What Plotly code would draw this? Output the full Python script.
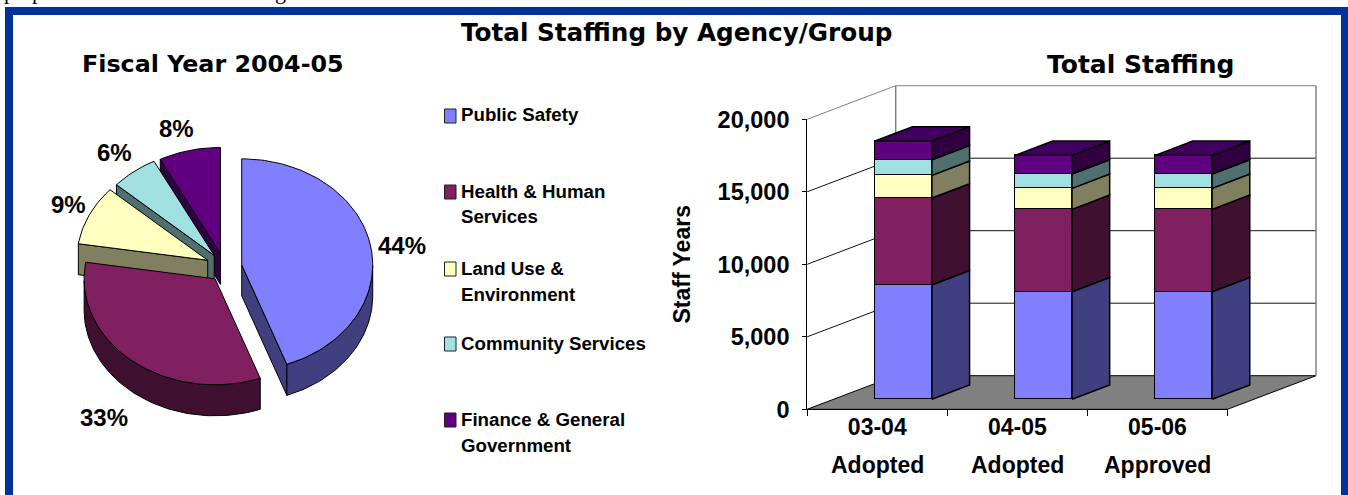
import math
import plotly.graph_objects as go

# ---------- data ----------
groups = ["Public Safety", "Health & Human Services", "Land Use & Environment",
          "Community Services", "Finance & General Government"]
legend_lines = [["Public Safety"], ["Health & Human", "Services"], ["Land Use &", "Environment"],
                ["Community Services"], ["Finance & General", "Government"]]
pie_shares = [44.4, 33.1, 9.1, 5.8, 7.6]
pie_labels = ["44%", "33%", "9%", "6%", "8%"]
pie_pull = [18, 14, 18, 16, 15]
years = ["03-04", "04-05", "05-06"]
stages = ["Adopted", "Adopted", "Approved"]
public_safety = [7900, 7420, 7420]
health_human = [5980, 5680, 5680]
land_use = [1565, 1450, 1450]
community = [1075, 985, 985]
finance = [1290, 1290, 1290]
stack = [public_safety, health_human, land_use, community, finance]
value_ticks = [0, 5000, 10000, 15000, 20000]

front = ["#8080FF", "#802060", "#FFFFC0", "#A0E0E0", "#600080"]
side = ["#404080", "#401030", "#808060", "#507070", "#300040"]
top_col = "#400060"
BLUE = "#003399"

W, H = 1348, 495
fig = go.Figure()

# ---------- axes layout (pixels -> library scales) ----------
PX_CAT = 140.1
PX_VAL = 290 / 20000
BX, BY = 903.4, 399.3      # bar plane origin on the page
DX = 88.5 / PX_CAT         # full floor depth, in axis units
DY = 33.6 / PX_VAL
D0 = 10 / 33.6             # bars stand this far behind the axis plane
DB = 14.3 / 33.6           # depth of one bar
BW = 57 / PX_CAT
FX0, FY0, FX1, FY1 = 807.2, 409.3, 1227.5, 119.3
CX, CY, RX, RY, DEPTH = 224, 268, 131, 106, 31


def wall(xpx, v, d):
    """point on the axis plane (page x, value) pushed back to depth d"""
    return (xpx - BX) / PX_CAT + d * DX, v + (d - D0) * DY


def path(points):
    return "M" + " L".join(f"{a:.4f},{b:.4f}" for a, b in points) + " Z"


shapes = [
    dict(type="rect", xref="paper", yref="paper", x0=5 / W, x1=W / W, y0=1 - 15 / H, y1=1 - 7 / H,
         fillcolor=BLUE, line_width=0, layer="above"),
    dict(type="rect", xref="paper", yref="paper", x0=5 / W, x1=13 / W, y0=0, y1=1 - 7 / H,
         fillcolor=BLUE, line_width=0, layer="above"),
    dict(type="rect", xref="paper", yref="paper", x0=1341 / W, x1=1, y0=0, y1=1 - 7 / H,
         fillcolor=BLUE, line_width=0, layer="above"),
]
# floor
shapes.append(dict(type="path", xref="x", yref="y", layer="below", fillcolor="#808080",
                   line=dict(color="#000000", width=1),
                   path=path([wall(FX0, 0, 0), wall(FX1, 0, 0), wall(FX1, 0, 1), wall(FX0, 0, 1)])))
# wall outline and gridlines
for v in value_ticks[1:]:
    pts = [wall(FX0, v, 0), wall(FX0, v, 1), wall(FX1, v, 1)]
    col = "#808080" if v == 20000 else "#101010"
    shapes.append(dict(type="path", xref="x", yref="y", layer="below",
                       line=dict(color=col, width=1),
                       path="M" + " L".join(f"{a:.4f},{b:.4f}" for a, b in pts)))
for xp in (FX0, FX1):
    a, b = wall(xp, 0, 1), wall(xp, 20000, 1)
    shapes.append(dict(type="line", xref="x", yref="y", layer="below", x0=a[0], y0=a[1], x1=b[0], y1=b[1],
                       line=dict(color="#808080", width=1.5)))

# ---------- stacked 3-D bars ----------
xs = list(range(len(years)))
for s, vals in enumerate(stack):
    fig.add_trace(go.Bar(x=xs, y=vals, name=groups[s], width=BW, marker=dict(color=front[s],
                         line=dict(color="#000000", width=1.5)), xaxis="x", yaxis="y",
                         showlegend=False, hoverinfo="skip"))


def poly(pts, color, xa="x", ya="y", lw=1.5):
    xx = [p[0] for p in pts] + [pts[0][0]]
    yy = [p[1] for p in pts] + [pts[0][1]]
    fig.add_trace(go.Scatter(x=xx, y=yy, mode="lines", fill="toself", fillcolor=color,
                             line=dict(color="#000000", width=lw), xaxis=xa, yaxis=ya,
                             showlegend=False, hoverinfo="skip"))


for i in xs:
    base = 0
    r = i + BW / 2
    l = i - BW / 2
    ox, oy = DB * DX, DB * DY
    for s, vals in enumerate(stack):
        t = base + vals[i]
        poly([(r, base), (r + ox, base + oy), (r + ox, t + oy), (r, t)], side[s])
        base = t
    poly([(l, base), (r, base), (r + ox, base + oy), (l + ox, base + oy)], top_col)

# visible front-plane axes carrying tick labels
totals = [sum(col[i] for col in stack) for i in xs]
fig.add_trace(go.Scatter(x=years, y=totals, mode="markers", marker=dict(opacity=0, size=1),
                         xaxis="x2", yaxis="y2", showlegend=False, hoverinfo="skip"))

# ---------- exploded pie ----------
UY = RY / RX


def pie_pt(t, ax, ay, drop=0):
    return ax + math.sin(t), ay + UY * math.cos(t) - drop / RX


order = [4, 3, 2, 1, 0]
start = 0
spans = []
for v in pie_shares:
    spans.append((start / 100 * 2 * math.pi, (start + v) / 100 * 2 * math.pi))
    start += v

for k in order:
    a, b = spans[k]
    mid = (a + b) / 2
    ax = pie_pull[k] * math.sin(mid) / RX
    ay = pie_pull[k] * math.cos(mid) / RX
    n = max(4, int((b - a) * 40))
    ts = [a + (b - a) * j / n for j in range(n + 1)]
    arc_top = [pie_pt(t, ax, ay) for t in ts]
    apex_t, apex_l = (ax, ay), (ax, ay - DEPTH / RX)
    # front-facing parts of the extruded body only
    if math.sin(a) < -1e-6:
        poly([apex_t, pie_pt(a, ax, ay), pie_pt(a, ax, ay, DEPTH), apex_l], side[k], "x3", "y3", 1)
    if math.sin(b) > 1e-6:
        poly([apex_t, pie_pt(b, ax, ay), pie_pt(b, ax, ay, DEPTH), apex_l], side[k], "x3", "y3", 1)
    front_ts = [t for t in ts if math.cos(t) <= 0]
    if len(front_ts) > 1:
        poly([pie_pt(t, ax, ay) for t in front_ts] + [pie_pt(t, ax, ay, DEPTH) for t in front_ts[::-1]],
             side[k], "x3", "y3", 1)
    poly([apex_t] + arc_top, front[k], "x3", "y3", 1)

# ---------- text ----------
annos = []


def text(s, x, y, size, family="Liberation Sans", xanchor="left", yanchor="middle"):
    annos.append(dict(text=s, x=x / W, y=1 - y / H, xref="paper", yref="paper", showarrow=False,
                      xanchor=xanchor, yanchor=yanchor, align="left", borderpad=0, borderwidth=0,
                      font=dict(family=family, size=size, color="#000000")))


TITLE_F = "DejaVu Sans"
text("<b>Total Staffing by Agency/Group</b>", 677, 33, 24.7, TITLE_F, "center")
text("<b>Fiscal Year 2004-05</b>", 213, 64, 23.8, TITLE_F, "center")
text("<b>Total Staffing</b>", 1140.5, 65, 25, TITLE_F, "center")
for lab, (x, y) in zip(pie_labels, [(402, 245), (103.5, 417), (68.5, 204), (114.5, 152), (176, 128)]):
    text(f"<b>{lab}</b>", x, y, 24, xanchor="center")

leg_y = [116, 192, 269, 344, 420]
for i, lines in enumerate(legend_lines):
    for j, line in enumerate(lines):
        text(f"<b>{line}</b>", 461, leg_y[i] - 1 + 26 * j, 18.7)
    shapes.append(dict(type="rect", xref="paper", yref="paper", x0=444.5 / W, x1=456 / W,
                       y0=1 - (leg_y[i] + 7) / H, y1=1 - (leg_y[i] - 7) / H, fillcolor=front[i],
                       line=dict(color="#202020", width=1)))

# second line of each category label
for i, st in enumerate(stages):
    text(f"<b>{st}</b>", FX0 + PX_CAT * (i + 0.5), 465, 23, xanchor="center")

# clipped descenders of the page text above the panel (off the top edge, like the reference)
for ch, x in [("p", 9), ("p", 37), ("g", 280)]:
    text(ch, x, -8, 22, "Liberation Serif", "center")

fx = lambda p: p / W
xr = [(0 - BX) / PX_CAT, (W - BX) / PX_CAT]
yr = [(BY - H) / PX_VAL, (BY - 0) / PX_VAL]
fig.update_layout(
    width=W, height=H, autosize=False, margin=dict(l=0, r=0, t=0, b=0, autoexpand=False),
    paper_bgcolor="white", plot_bgcolor="rgba(0,0,0,0)", barmode="stack", bargap=0,
    showlegend=False, shapes=shapes, annotations=annos,
    xaxis=dict(domain=[0, 1], range=xr, visible=False, fixedrange=True, automargin=False),
    yaxis=dict(domain=[0, 1], range=yr, visible=False, fixedrange=True, automargin=False),
    xaxis2=dict(domain=[fx(FX0), fx(FX1)], anchor="y2", type="category", tickson="boundaries", automargin=False,
                range=[-0.5, 2.5], ticks="outside", ticklen=6, tickcolor="#000000", showgrid=False,
                showline=True, linecolor="#000000", linewidth=1, ticklabelstandoff=-3,
                tickfont=dict(family="Liberation Sans", size=23, color="#000000", weight="bold")),
    yaxis2=dict(domain=[(H - FY0) / H, (H - FY1) / H], anchor="x2", range=[0, 20000], tickvals=value_ticks,
                tickformat=",", ticks="outside", ticklen=4, tickcolor="#000000", showgrid=False, automargin=False,
                showline=True, linecolor="#000000", linewidth=1, ticklabelstandoff=8, zeroline=False,
                tickfont=dict(family="Liberation Sans", size=23.5, color="#000000", weight="bold"),
                title=dict(text="<b>Staff Years</b>", standoff=20,
                           font=dict(family="Liberation Sans", size=23, color="#000000"))),
    xaxis3=dict(domain=[0, 1], anchor="y3", range=[-CX / RX, (W - CX) / RX], visible=False, fixedrange=True, automargin=False),
    yaxis3=dict(domain=[0, 1], anchor="x3", range=[-(H - CY) / RX, CY / RX], visible=False, fixedrange=True, automargin=False),
)
fig.write_html("out.html", config=dict(displayModeBar=False),
               post_script="document.body.style.margin='0';document.body.style.overflow='hidden';")
